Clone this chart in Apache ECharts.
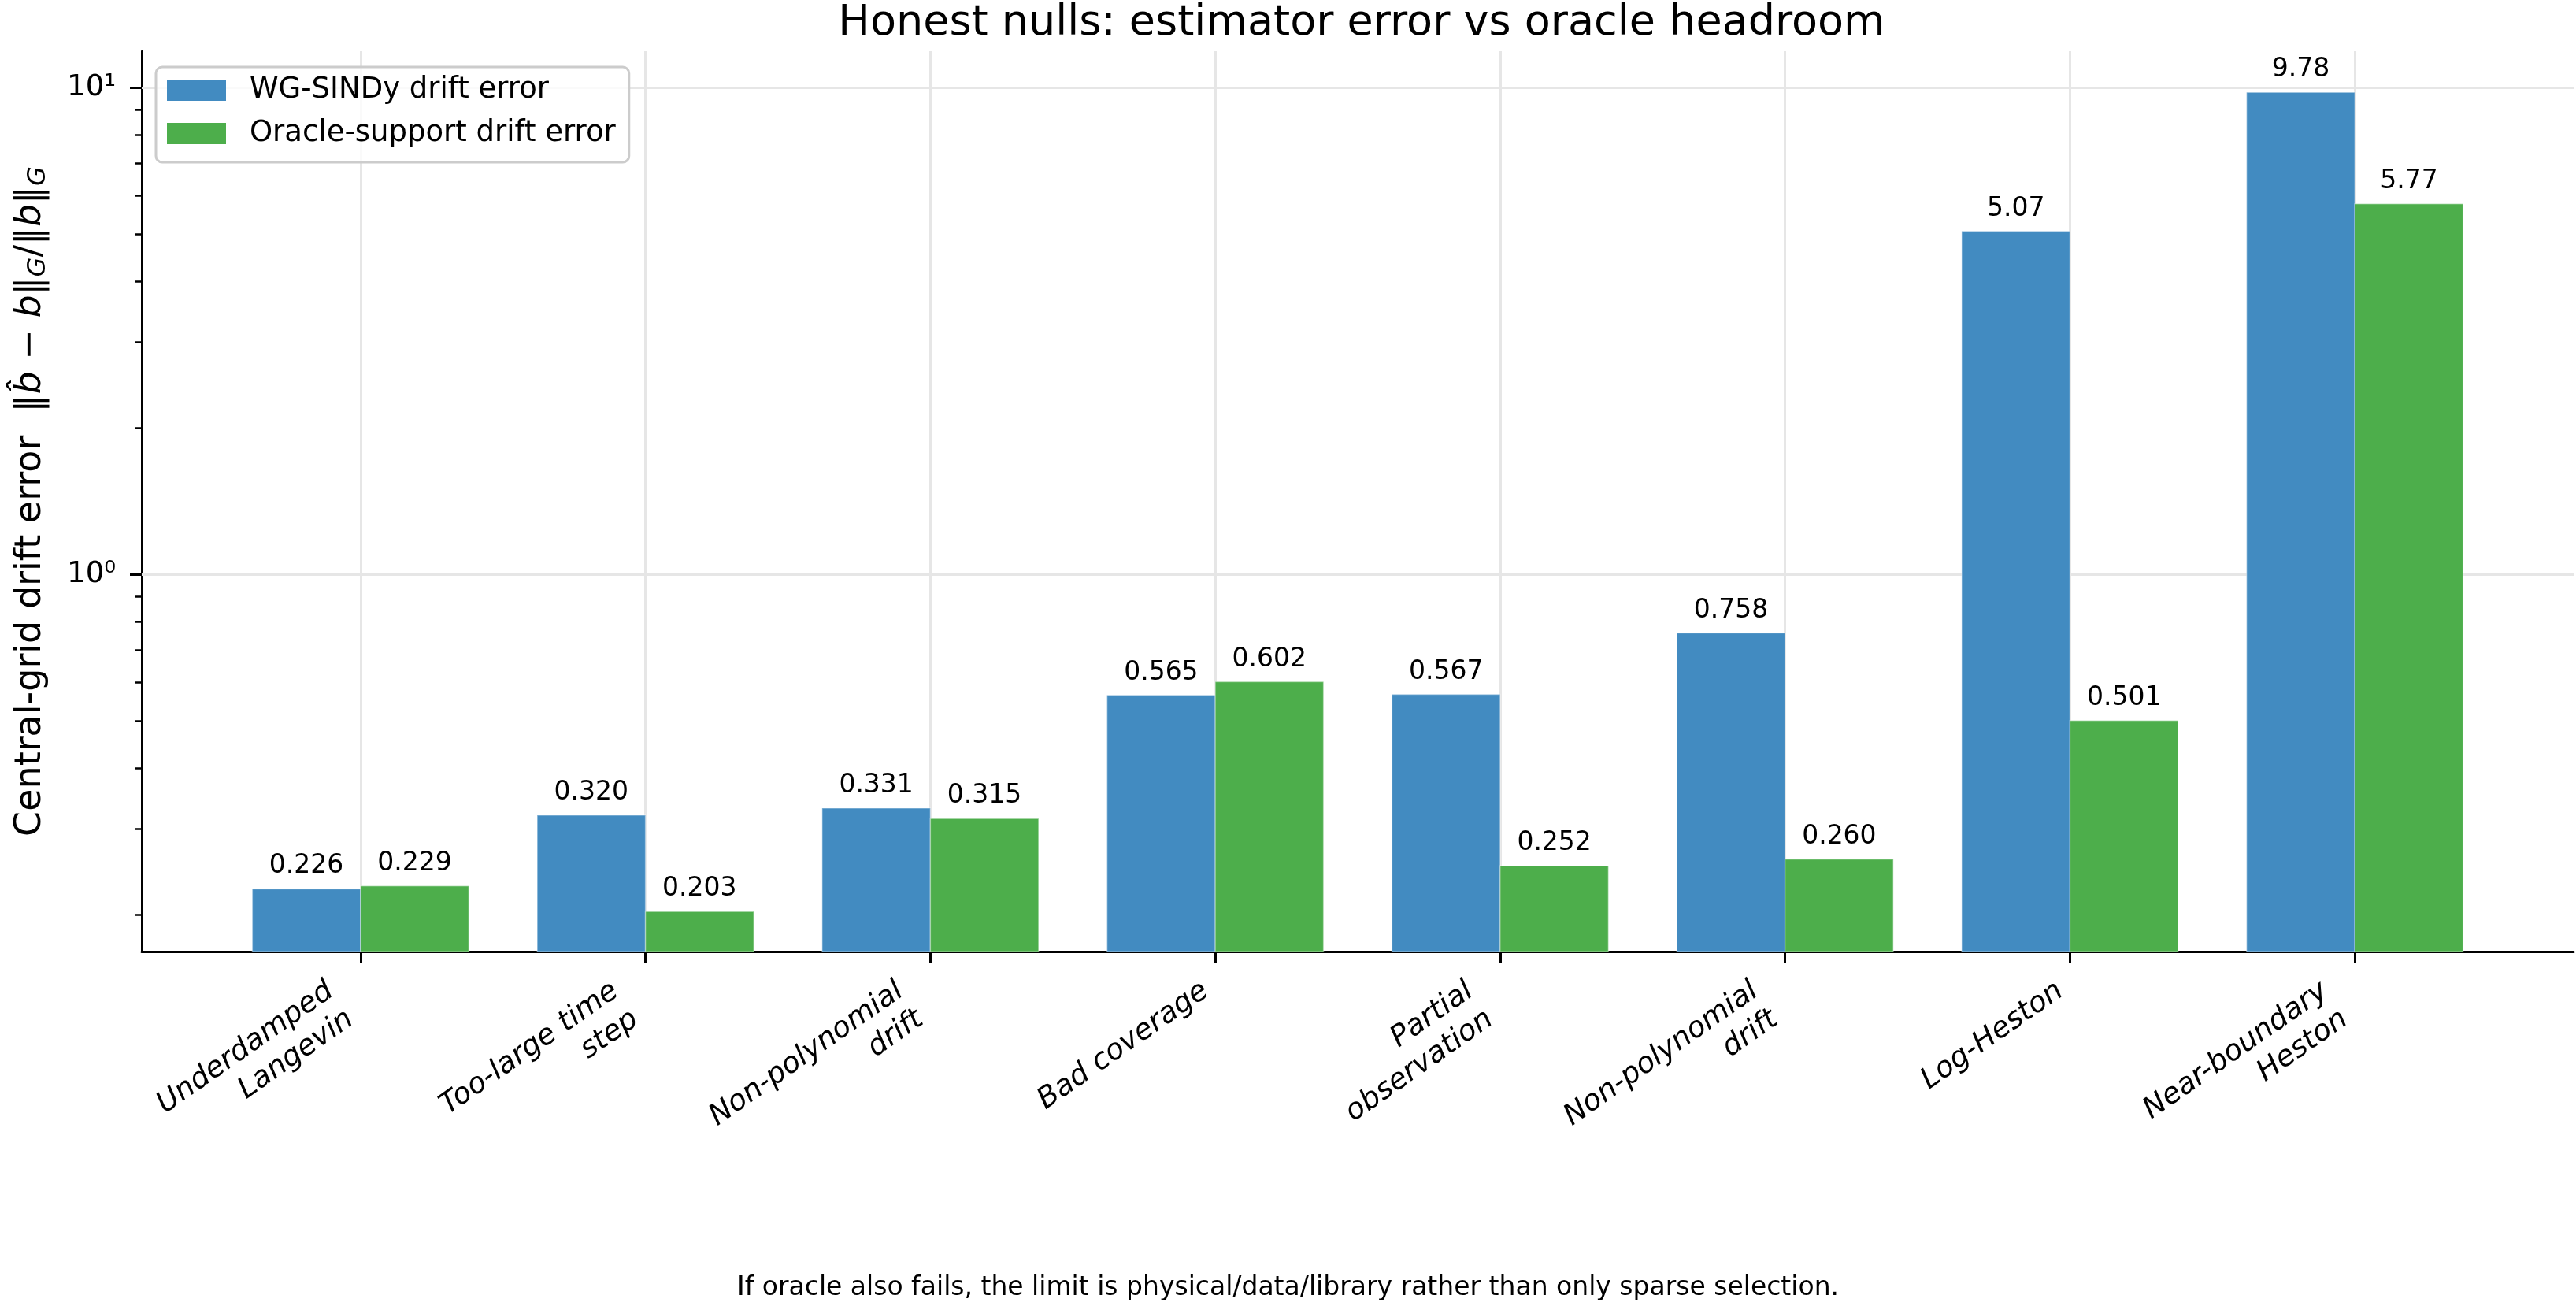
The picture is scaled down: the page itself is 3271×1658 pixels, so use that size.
<!DOCTYPE html>
<html>
<head>
<meta charset="utf-8">
<script src="https://cdn.jsdelivr.net/npm/echarts@6/dist/echarts.min.js"></script>
<style>
  html, body { margin: 0; padding: 0; background: #fff; }
  #chart { width: 3271px; height: 1658px; }
</style>
</head>
<body>
<div id="chart"></div>
<script>
// data
const categories = ['Underdamped\nLangevin', 'Too-large time\nstep', 'Non-polynomial\ndrift', 'Bad coverage',
  'Partial\nobservation', 'Non-polynomial\ndrift', 'Log-Heston', 'Near-boundary\nHeston']
const wgError = [0.226, 0.320, 0.331, 0.565, 0.567, 0.758, 5.07, 9.78]
const oracleError = [0.229, 0.203, 0.315, 0.602, 0.252, 0.260, 0.501, 5.77]
const seriesNames = ['WG-SINDy drift error', 'Oracle-support drift error']
const majorTicks = [1, 10]
const minorTicks = [0.2, 0.3, 0.4, 0.5, 0.6, 0.7, 0.8, 0.9, 2, 3, 4, 5, 6, 7, 8, 9]
const catIdx = [0, 1, 2, 3, 4, 5, 6, 7]
const twoLineIdx = [0, 1, 2, 4, 5, 7]
const oneLineIdx = [3, 6]

const FONT = 'DejaVu Sans'
const BLUE = '#428bc1'
const GREEN = '#4dae4b'
const yMin = 0.168, yMax = 11.88
const barWidth = 0.38

const chart = echarts.init(document.getElementById('chart'), null, { renderer: 'canvas' })

const fmtVal = v => v >= 1 ? v.toFixed(2) : v.toFixed(3)
const sup = { 0: '\u2070', 1: '\u00b9' }

function makeRender(side) {
  return function (params, api) {
    const x = api.value(0), v = api.value(1)
    const top = api.coord([x, v])
    const base = api.coord([x, yMin])
    const unit = api.coord([x + 1, v])[0] - top[0]
    const bw = unit * barWidth
    const left = side < 0 ? top[0] - bw : top[0]
    return {
      type: 'group',
      children: [
        {
          type: 'rect',
          shape: { x: left, y: top[1], width: bw, height: base[1] - top[1] },
          style: { fill: api.visual('color'), stroke: 'rgba(255,255,255,0.35)', lineWidth: 1.5 }
        },
        {
          type: 'text',
          style: {
            text: fmtVal(v), x: left + bw / 2, y: top[1] - 12,
            align: 'center', verticalAlign: 'bottom',
            fontSize: 33, fontFamily: FONT, fill: '#000'
          }
        }
      ]
    }
  }
}

const xLabelBase = {
  rotate: 35, fontSize: 37, fontFamily: FONT, fontStyle: 'italic', color: '#000',
  lineHeight: 44, align: 'right',
  formatter: v => categories[v]
}

const option = {
  backgroundColor: '#fff',
  animation: false,
  title: {
    text: 'Honest nulls: estimator error vs oracle headroom',
    left: 1724, top: -2, textAlign: 'center',
    textStyle: { fontSize: 54, fontWeight: 'normal', fontFamily: FONT, color: '#000' }
  },
  legend: {
    orient: 'vertical', left: 198, top: 85,
    padding: [11, 17, 18, 14],
    itemWidth: 75, itemHeight: 27, itemGap: 18, icon: 'rect',
    borderColor: '#cccccc', borderWidth: 3, borderRadius: 8,
    backgroundColor: 'rgba(255,255,255,0.8)',
    textStyle: { fontSize: 37, fontFamily: FONT, color: '#000', padding: [0, 0, 0, 25], lineHeight: 37 },
    data: seriesNames
  },
  grid: { left: 180, right: 3, top: 65, bottom: 450 },
  xAxis: [
    {
      type: 'value', min: -0.768, max: 7.768, position: 'bottom',
      splitLine: { show: false },
      axisLine: { show: true, onZero: false, lineStyle: { color: '#000', width: 3 } },
      axisTick: { show: true, customValues: catIdx, length: 15, lineStyle: { color: '#000', width: 3 } },
      axisLabel: Object.assign({}, xLabelBase, { customValues: twoLineIdx, margin: 47, padding: [0, 31, 0, 0] })
    },
    {
      type: 'value', min: -0.768, max: 7.768, position: 'bottom', offset: 0,
      splitLine: { show: false },
      axisLine: { show: false, onZero: false },
      axisTick: { show: false },
      axisLabel: Object.assign({}, xLabelBase, { customValues: oneLineIdx, margin: 38, padding: [0, 15, 0, 0] })
    }
  ],
  yAxis: [
    {
      type: 'log', logBase: 10, min: yMin, max: yMax, position: 'left',
      splitLine: { show: false },
      axisLine: { show: true, onZero: false, lineStyle: { color: '#000', width: 3 } },
      axisTick: { show: true, customValues: majorTicks, length: 15, lineStyle: { color: '#000', width: 3 } },
      axisLabel: {
        customValues: majorTicks, margin: 33, fontSize: 37, fontFamily: FONT, color: '#000',
        formatter: v => '10' + sup[Math.round(Math.log10(v))]
      },
      name: '{t|Central-grid drift error  \u2016}{i|b\u0302}{t| \u2212 }{i|b}{t|\u2016}{s|G}{t|/\u2016}{i|b}{t|\u2016}{s|G}',
      nameLocation: 'middle', nameGap: 115,
      nameTextStyle: {
        fontSize: 46, fontFamily: FONT, color: '#000',
        rich: {
          t: { fontSize: 46, fontFamily: FONT, color: '#000' },
          i: { fontSize: 46, fontFamily: FONT, fontStyle: 'italic', color: '#000' },
          s: { fontSize: 32, fontFamily: FONT, fontStyle: 'italic', color: '#000', padding: [20, 0, 0, 0] }
        }
      }
    },
    {
      type: 'log', logBase: 10, min: yMin, max: yMax, position: 'left', offset: 0,
      splitLine: { show: false },
      axisLine: { show: false, onZero: false },
      axisTick: { show: true, customValues: minorTicks, length: 8.5, lineStyle: { color: '#000', width: 2.5 } },
      axisLabel: { show: false }
    }
  ],
  graphic: [
    {
      type: 'text', left: 'center', top: 1619,
      style: {
        text: 'If oracle also fails, the limit is physical/data/library rather than only sparse selection.',
        fontSize: 33, fontFamily: FONT, fill: '#000'
      }
    }
  ],
  series: [
    {
      name: seriesNames[0], type: 'custom', xAxisIndex: 0, yAxisIndex: 0, z: 2,
      itemStyle: { color: BLUE },
      renderItem: makeRender(-1),
      data: wgError.map((v, i) => [i, v]),
      markLine: {
        silent: true, symbol: 'none', z: 1,
        label: { show: false },
        lineStyle: { color: '#e6e6e6', width: 3, type: 'solid' },
        data: catIdx.map(i => ({ xAxis: i })).concat(majorTicks.map(v => ({ yAxis: v })))
      }
    },
    {
      name: seriesNames[1], type: 'custom', xAxisIndex: 0, yAxisIndex: 0, z: 2,
      itemStyle: { color: GREEN },
      renderItem: makeRender(1),
      data: oracleError.map((v, i) => [i, v])
    }
  ]
}

chart.setOption(option)
</script>
</body>
</html>
